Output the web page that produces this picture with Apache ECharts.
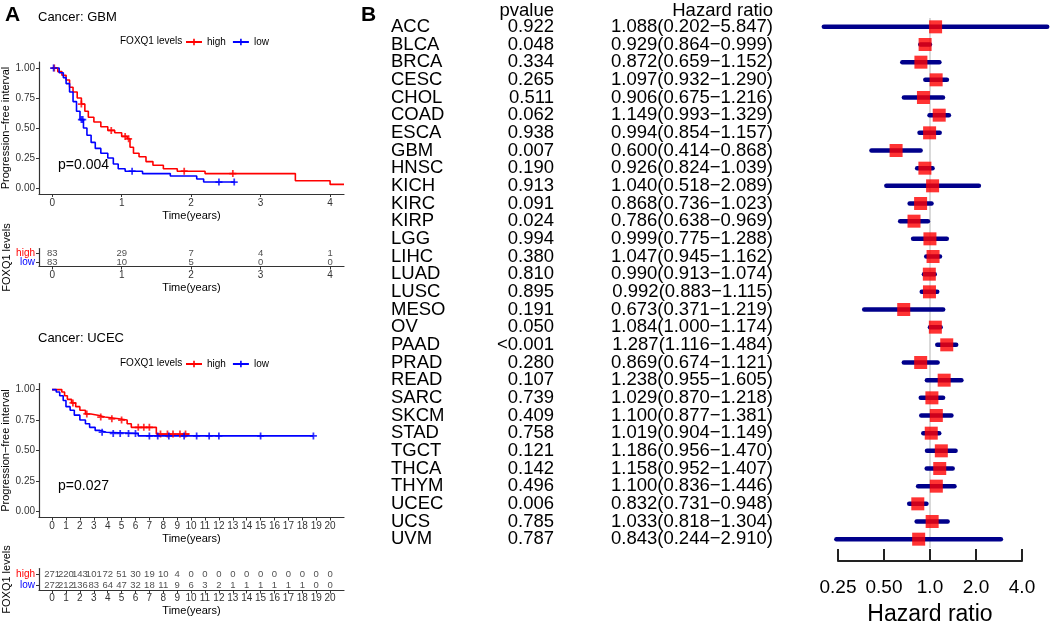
<!DOCTYPE html>
<html><head><meta charset="utf-8">
<script src="https://cdn.jsdelivr.net/npm/echarts/dist/echarts.min.js"></script>
<style>html,body{margin:0;padding:0;background:#fff}#c{width:1052px;height:623px}</style>
</head><body><div id="c"></div><script>
// ---------- Panel A data ----------
const gbmHighT = [0,0.08,0.14,0.2,0.25,0.3,0.36,0.42,0.47,0.52,0.6,0.7,0.8,0.9,1.0,1.08,1.12,1.17,1.25,1.35,1.45,1.6,1.8,2.2,3.5,4.0,4.2];
const gbmHighS = [1,0.97,0.94,0.9,0.84,0.8,0.75,0.7,0.64,0.59,0.55,0.51,0.48,0.46,0.43,0.41,0.34,0.29,0.26,0.22,0.19,0.16,0.14,0.12,0.06,0.03,0.03];
const gbmLowT = [0,0.1,0.16,0.2,0.25,0.3,0.35,0.4,0.45,0.5,0.56,0.62,0.7,0.8,0.88,0.95,1.05,1.3,1.7,2.08,2.18,2.63];
const gbmLowS = [1,0.96,0.92,0.87,0.8,0.72,0.64,0.57,0.5,0.44,0.38,0.33,0.29,0.25,0.2,0.16,0.14,0.12,0.1,0.075,0.05,0.05];
const gbmHighCensor = [[0.03,1],[0.42,0.7],[0.85,0.48],[1.05,0.43],[1.1,0.41],[1.9,0.14],[2.6,0.12]];
const gbmLowCensor = [[0.02,1],[0.42,0.57],[0.44,0.57],[1.15,0.14],[2.4,0.05],[2.62,0.05]];
const gbmRiskT = [0,1,2,3,4];
const gbmRiskHigh = [83,29,7,4,1];
const gbmRiskLow = [83,10,5,0,0];

const ucecHighT = [0,0.7,0.9,1.1,1.4,1.7,2.0,2.4,2.8,3.3,3.8,4.8,5.4,5.7,7.5,9.9];
const ucecHighS = [1,0.98,0.95,0.92,0.89,0.86,0.83,0.80,0.79,0.775,0.76,0.75,0.72,0.69,0.635,0.635];
const ucecLowT = [0,0.3,0.55,0.8,1.0,1.3,1.6,2.0,2.4,2.7,3.1,3.45,3.9,6.2,18.8];
const ucecLowS = [1,0.98,0.95,0.91,0.86,0.83,0.79,0.75,0.72,0.69,0.665,0.65,0.64,0.62,0.62];
const ucecHighCensor = [[1.5,0.89],[2.5,0.80],[3.5,0.775],[4.3,0.76],[5.0,0.75],[6.2,0.69],[6.6,0.69],[7.0,0.69],[7.8,0.635],[8.3,0.635],[8.7,0.635],[9.2,0.635],[9.6,0.635]];
const ucecLowCensor = [[3.6,0.65],[4.4,0.64],[4.9,0.64],[5.5,0.64],[6.0,0.64],[7.0,0.62],[7.6,0.62],[8.4,0.62],[9.5,0.62],[10.4,0.62],[11.3,0.62],[12.0,0.62],[15.0,0.62],[18.8,0.62]];
const ucecRiskT = [0,1,2,3,4,5,6,7,8,9,10,11,12,13,14,15,16,17,18,19,20];
const ucecRiskHigh = [271,220,143,101,72,51,30,19,10,4,0,0,0,0,0,0,0,0,0,0,0];
const ucecRiskLow = [272,212,136,83,64,47,32,18,11,9,6,3,2,1,1,1,1,1,1,0,0];
const survTicks = [0,0.25,0.5,0.75,1];

// ---------- Panel B data ----------
const cancers = ['ACC','BLCA','BRCA','CESC','CHOL','COAD','ESCA','GBM','HNSC','KICH','KIRC','KIRP','LGG','LIHC','LUAD','LUSC','MESO','OV','PAAD','PRAD','READ','SARC','SKCM','STAD','TGCT','THCA','THYM','UCEC','UCS','UVM'];
const pvals = ['0.922','0.048','0.334','0.265','0.511','0.062','0.938','0.007','0.190','0.913','0.091','0.024','0.994','0.380','0.810','0.895','0.191','0.050','<0.001','0.280','0.107','0.739','0.409','0.758','0.121','0.142','0.496','0.006','0.785','0.787'];
const hr = [1.088,0.929,0.872,1.097,0.906,1.149,0.994,0.600,0.926,1.040,0.868,0.786,0.999,1.047,0.990,0.992,0.673,1.084,1.287,0.869,1.238,1.029,1.100,1.019,1.186,1.158,1.100,0.832,1.033,0.843];
const lo = [0.202,0.864,0.659,0.932,0.675,0.993,0.854,0.414,0.824,0.518,0.736,0.638,0.775,0.945,0.913,0.883,0.371,1.000,1.116,0.674,0.955,0.870,0.877,0.904,0.956,0.952,0.836,0.731,0.818,0.244];
const hi = [5.847,0.999,1.152,1.290,1.216,1.329,1.157,0.868,1.039,2.089,1.023,0.969,1.288,1.162,1.074,1.115,1.219,1.174,1.484,1.121,1.605,1.218,1.381,1.149,1.470,1.407,1.446,0.948,1.304,2.910];
const hrTickVals = [0.25,0.5,1,2,4];
const hrTickLabels = ['0.25','0.50','1.0','2.0','4.0'];

// ---------- styling ----------
const FF = 'Liberation Sans, Arial, Helvetica, sans-serif';
const RED = '#FF0000', BLUE = '#0000FF', AX = '#333333';
const zip = (t, s) => t.map((v, i) => [v, s[i]]);
const plusPath = 'path://M3,0H5V3H8V5H5V8H3V5H0V3H3Z';

function kmX(grid, min, max, ticks, lblMargin, nameGap) {
  return {
    type: 'value', gridIndex: grid, min: min, max: max,
    name: 'Time(years)', nameLocation: 'middle', nameGap: nameGap,
    nameTextStyle: {fontFamily: FF, fontSize: 11, color: '#000'},
    axisLine: {show: true, onZero: false, lineStyle: {color: AX, width: 1.2}},
    axisTick: {show: true, length: 3, customValues: ticks, lineStyle: {color: AX}},
    axisLabel: {customValues: ticks, margin: lblMargin, fontFamily: FF, fontSize: 10, color: '#333', hideOverlap: false},
    splitLine: {show: false}
  };
}
function kmY(grid) {
  return {
    type: 'value', gridIndex: grid, min: -0.05, max: 1.05,
    name: 'Progression\u2212free interval', nameLocation: 'middle', nameGap: 24,
    nameTextStyle: {fontFamily: FF, fontSize: 11, color: '#000'},
    axisLine: {show: true, onZero: false, lineStyle: {color: AX, width: 1.2}},
    axisTick: {show: true, length: 3, customValues: survTicks, lineStyle: {color: AX}},
    axisLabel: {customValues: survTicks, margin: 4, fontFamily: FF, fontSize: 10, color: '#333',
      formatter: v => v.toFixed(2)},
    splitLine: {show: false}
  };
}
function riskY(grid) {
  return {
    type: 'category', gridIndex: grid, data: ['low', 'high'],
    name: 'FOXQ1 levels', nameLocation: 'middle', nameGap: 25,
    nameTextStyle: {fontFamily: FF, fontSize: 11, color: '#000'},
    axisLine: {show: true, onZero: false, lineStyle: {color: AX, width: 1.2}},
    axisTick: {show: true, length: 3, alignWithLabel: true, interval: 0, lineStyle: {color: AX}},
    axisLabel: {interval: 0, hideOverlap: false, margin: 4, fontFamily: FF, fontSize: 10,
      color: v => v === 'high' ? RED : BLUE},
    splitLine: {show: false}
  };
}
function kmLine(name, x, y, t, s, color) {
  return {type: 'line', name: name, xAxisIndex: x, yAxisIndex: y, step: 'end', data: zip(t, s),
    symbol: plusPath, symbolSize: 7, showSymbol: false, color: color,
    itemStyle: {color: color}, lineStyle: {color: color, width: 1.6}, z: 3};
}
function censor(x, y, d, color) {
  return {type: 'scatter', xAxisIndex: x, yAxisIndex: y, data: d, symbol: plusPath, symbolSize: 7,
    itemStyle: {color: color}, z: 4};
}
function riskRow(x, y, row, t, n) {
  return {type: 'scatter', xAxisIndex: x, yAxisIndex: y, data: t.map((v, i) => [v, row, n[i]]),
    symbolSize: 1, itemStyle: {color: 'rgba(0,0,0,0)'},
    label: {show: true, position: 'inside', formatter: p => String(p.value[2]),
      fontFamily: FF, fontSize: 9.5, color: '#222'}};
}
function txt(text, left, top, size, weight, extra) {
  return Object.assign({text: text, left: left, top: top, padding: 0,
    textStyle: {fontFamily: FF, fontSize: size, fontWeight: weight || 'normal', color: '#000'}}, extra || {});
}
function legend(top) {
  return {data: ['high', 'low'],
    left: 185, top: top, padding: 0, itemWidth: 16, itemHeight: 8, itemGap: 6,
    selectedMode: false, textStyle: {fontFamily: FF, fontSize: 10, color: '#000'}};
}
// text column drawn as a custom series positioned by the category y axis of the forest grid
function textColumn(colX, align, getText) {
  return {type: 'custom', xAxisIndex: 4, yAxisIndex: 4, z: 5, clip: false,
    data: cancers.map((c, i) => [1, i]), encode: {x: 0, y: 1},
    renderItem: (params, api) => {
      const y = api.coord([1, api.value(1)])[1];
      return {type: 'text', x: colX, y: y,
        style: {text: getText(params.dataIndex), fontFamily: FF, fontSize: 18.5, fill: '#000',
          align: align, verticalAlign: 'middle', textAlign: align, textVerticalAlign: 'middle'}};
    }};
}

const chart = echarts.init(document.getElementById('c'), null, {renderer: 'canvas'});
chart.setOption({
  animation: false,
  backgroundColor: '#fff',
  title: [
    txt('A', 5, 5, 21, 'bold'),
    txt('Cancer: GBM', 38, 10.5, 13),
    txt('FOXQ1 levels', 120, 36, 10),
    txt('p=0.004', 58, 158, 14),
    txt('Cancer: UCEC', 38, 332, 13),
    txt('FOXQ1 levels', 120, 358, 10),
    txt('p=0.027', 58, 479, 14),
    txt('B', 361, 5, 21, 'bold'),
    txt('pvalue', null, 1, 18.5, 'normal', {right: 498}),
    txt('Hazard ratio', null, 1, 18.5, 'normal', {right: 279})
  ],
  legend: [legend(37), legend(359)],
  grid: [
    {left: 39, top: 62, width: 305, height: 132, outerBoundsMode: 'none', containLabel: false},
    {left: 39, top: 248.5, width: 305, height: 18, outerBoundsMode: 'none', containLabel: false},
    {left: 39, top: 383.5, width: 305, height: 134, outerBoundsMode: 'none', containLabel: false},
    {left: 39, top: 568.5, width: 305, height: 22, outerBoundsMode: 'none', containLabel: false},
    {left: 815, top: 18, width: 234.6, height: 530, outerBoundsMode: 'none', containLabel: false},
    {left: 838, top: 549, width: 184, height: 12, outerBoundsMode: 'none', containLabel: false}
  ],
  xAxis: [
    kmX(0, -0.19, 4.2, gbmRiskT, 4, 16),
    kmX(1, -0.19, 4.2, gbmRiskT, 4, 16),
    kmX(2, -0.94, 21, ucecRiskT, 4, 16),
    kmX(3, -0.94, 21, ucecRiskT, 3, 15),
    {type: 'log', logBase: 2, gridIndex: 4, min: Math.pow(2, -2.5), max: Math.pow(2, 2.6),
      axisLine: {show: false}, axisTick: {show: false}, axisLabel: {show: false}, splitLine: {show: false}},
    {type: 'log', logBase: 2, gridIndex: 5, min: 0.25, max: 4,
      name: 'Hazard ratio', nameLocation: 'middle', nameGap: 42,
      nameTextStyle: {fontFamily: FF, fontSize: 23, color: '#000'},
      axisLine: {show: true, lineStyle: {color: '#222', width: 2}},
      axisTick: {show: true, inside: true, length: 12, customValues: hrTickVals, lineStyle: {color: '#222', width: 2}},
      axisLabel: {customValues: hrTickVals, margin: 17, fontFamily: FF, fontSize: 19, color: '#000',
        formatter: v => { const i = hrTickVals.findIndex(t => Math.abs(t - v) < 1e-6); return i >= 0 ? hrTickLabels[i] : ''; }},
      splitLine: {show: false}}
  ],
  yAxis: [
    kmY(0), riskY(1), kmY(2), riskY(3),
    {type: 'category', gridIndex: 4, data: cancers, inverse: true, show: false},
    {type: 'value', gridIndex: 5, show: false, min: 0, max: 1}
  ],
  series: [
    kmLine('high', 0, 0, gbmHighT, gbmHighS, RED),
    kmLine('low', 0, 0, gbmLowT, gbmLowS, BLUE),
    censor(0, 0, gbmHighCensor, RED),
    censor(0, 0, gbmLowCensor, BLUE),
    kmLine('high', 2, 2, ucecHighT, ucecHighS, RED),
    kmLine('low', 2, 2, ucecLowT, ucecLowS, BLUE),
    censor(2, 2, ucecHighCensor, RED),
    censor(2, 2, ucecLowCensor, BLUE),
    riskRow(1, 1, 'high', gbmRiskT, gbmRiskHigh),
    riskRow(1, 1, 'low', gbmRiskT, gbmRiskLow),
    riskRow(3, 3, 'high', ucecRiskT, ucecRiskHigh),
    riskRow(3, 3, 'low', ucecRiskT, ucecRiskLow),
    {type: 'custom', xAxisIndex: 4, yAxisIndex: 4, z: 2, clip: false,
      data: lo.map((v, i) => [v, hi[i], i]),
      encode: {x: [0, 1], y: 2},
      renderItem: (params, api) => {
        const p1 = api.coord([api.value(0), api.value(2)]);
        const p2 = api.coord([api.value(1), api.value(2)]);
        return {type: 'line', shape: {x1: p1[0], y1: p1[1], x2: p2[0], y2: p2[1]},
          style: {stroke: '#00008B', lineWidth: 4.5, lineCap: 'round'}};
      }},
    {type: 'scatter', xAxisIndex: 4, yAxisIndex: 4, z: 3,
      data: hr.map((v, i) => [v, i]), symbol: 'rect', symbolSize: 13,
      itemStyle: {color: RED},
      markLine: {silent: true, symbol: 'none', label: {show: false}, z: 1,
        lineStyle: {color: '#CCCCCC', width: 1.5, type: 'solid'},
        data: [{xAxis: 1}]}},
    textColumn(391, 'left', i => cancers[i]),
    textColumn(554, 'right', i => pvals[i]),
    textColumn(773, 'right', i => hr[i].toFixed(3) + '(' + lo[i].toFixed(3) + '\u2212' + hi[i].toFixed(3) + ')')
  ]
});
</script></body></html>
